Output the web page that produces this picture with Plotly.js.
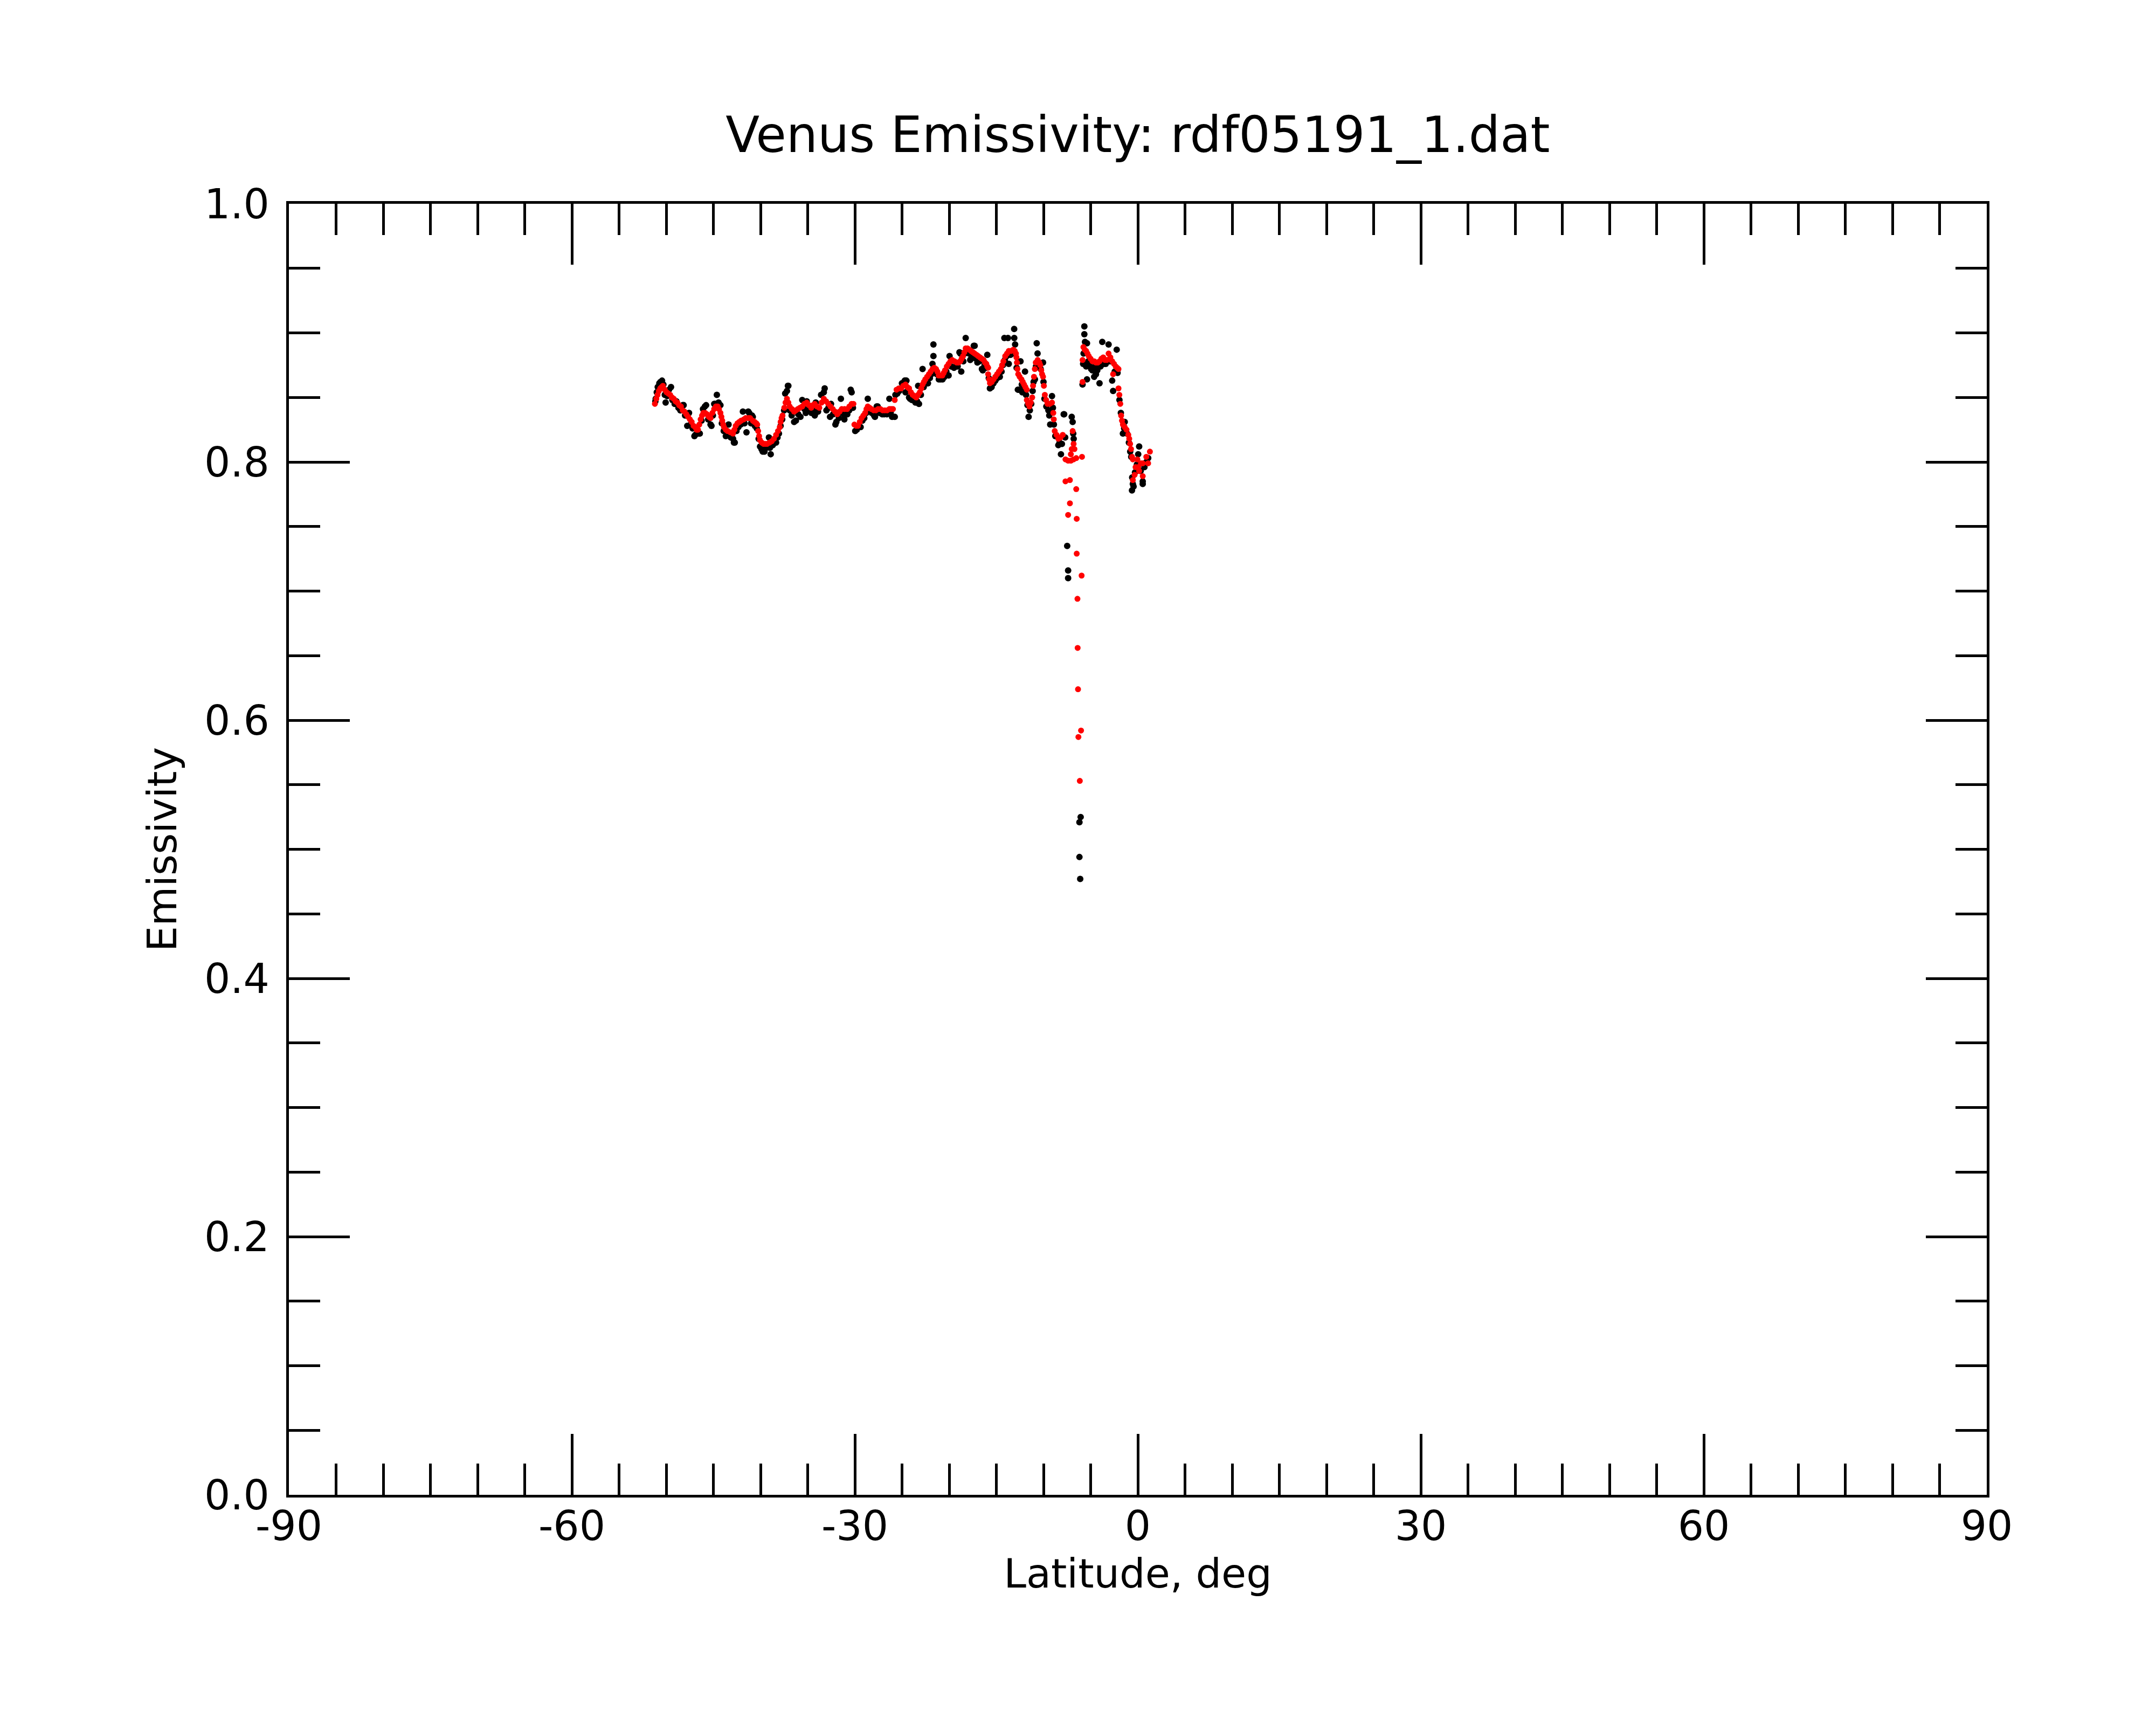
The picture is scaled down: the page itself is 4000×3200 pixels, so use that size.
<!DOCTYPE html>
<html>
<head>
<meta charset="utf-8">
<script src="https://cdn.plot.ly/plotly-3.0.1.min.js"></script>
<style>
  html, body {margin: 0; padding: 0; background: #fff;}
  #plot {width: 4000px; height: 3200px;}
</style>
</head>
<body>
<div id="plot"></div>
<script>
// smoothed emissivity (red)
var redLat = [
  -51.20, -51.05, -50.92, -50.78, -50.63, -50.49, -50.35, -50.15, -49.96, -49.77,
  -49.58, -49.39, -49.20, -49.01, -48.82, -48.63, -48.44, -48.25, -48.06, -47.87,
  -47.68, -47.49, -47.30, -47.10, -46.92, -46.78, -46.63, -46.49, -46.35, -46.20,
  -46.06, -45.87, -45.68, -45.49, -45.30, -45.10, -44.92, -44.73, -44.54, -44.40,
  -44.25, -44.15, -44.06, -43.96, -43.87, -43.68, -43.49, -43.20, -42.92, -42.77,
  -42.63, -42.44, -42.25, -42.06, -41.77, -41.58, -41.30, -41.10, -40.82, -40.63,
  -40.45, -40.35, -40.25, -40.15, -40.06, -39.87, -39.68, -39.49, -39.30, -39.05,
  -38.82, -38.58, -38.35, -38.15, -37.96, -37.87, -37.77, -37.67, -37.48, -37.35,
  -37.20, -37.05, -36.91, -36.67, -36.44, -36.25, -36.05, -35.82, -35.58, -35.35,
  -35.10, -34.87, -34.63, -34.44, -34.25, -34.01, -33.77, -33.53, -33.29, -33.05,
  -32.82, -32.58, -32.34, -32.10, -31.86, -31.62, -31.39, -31.10, -30.82, -30.58,
  -30.34, -30.15, -30.05, -29.86, -29.67, -29.48, -29.29, -29.10, -28.91, -28.77,
  -28.63, -28.44, -28.25, -28.01, -27.77, -27.53, -27.29, -27.05, -26.82, -26.58,
  -26.34, -26.15, -25.96, -25.77, -25.58, -25.34, -25.10, -24.87, -24.63, -24.44,
  -24.25, -24.06, -23.87, -23.68, -23.49, -23.30, -23.11, -22.96, -22.82, -22.68,
  -22.53, -22.34, -22.15, -21.96, -21.77, -21.58, -21.39, -21.25, -21.11, -20.92,
  -20.73, -20.58, -20.44, -20.25, -20.06, -19.87, -19.68, -19.44, -19.20, -19.01,
  -18.82, -18.68, -18.53, -18.39, -18.25, -18.06, -17.87, -17.68, -17.49, -17.30,
  -17.11, -16.92, -16.73, -16.54, -16.35, -16.20, -16.06, -15.96, -15.87, -15.87,
  -15.77, -15.68, -15.49, -15.30, -15.11, -14.92, -14.73, -14.53, -14.39, -14.25,
  -14.06, -13.87, -13.68, -13.44, -13.20, -13.05, -12.92, -12.87, -12.82, -12.77,
  -12.68, -12.53, -12.34, -12.20, -12.06, -11.92, -11.77, -11.77, -11.63, -11.49,
  -11.35, -11.20, -11.11, -11.01, -10.92, -10.82, -10.62, -10.44, -10.34, -10.24,
  -10.15, -10.05, -9.96, -9.86, -9.72, -9.58, -9.34, -9.10, -8.96, -8.91,
  -8.81, -8.62, -8.43, -8.20, -7.96, -7.67, -7.39, -7.10, -6.81, -6.53,
  -5.92, -6.91, -6.81, -7.01, -6.72, -7.10, -7.67, -7.20, -6.53, -7.20,
  -7.39, -6.48, -6.48, -5.96, -6.40, -6.38, -6.34, -6.02, -6.30, -6.15,
  -5.86, -5.86, -5.77, -5.63, -5.48, -5.34, -5.20, -5.01, -4.82, -4.63,
  -4.44, -4.25, -4.06, -3.86, -3.67, -3.48, -3.29, -3.10, -2.91, -2.72,
  -2.62, -2.53, -2.34, -2.20, -2.05, -2.05, -1.96, -1.86, -1.77, -1.68,
  -1.58, -1.39, -1.20, -1.01, -0.91, -0.82, -0.72, -0.62, -0.53, -0.34,
  -0.53, -0.24, -0.05, 0.04, 0.14, 0.33, 0.52, 0.52, 0.90, 1.09, 1.28
];
var redEmis = [
  0.845, 0.849, 0.852, 0.855, 0.857, 0.858, 0.859, 0.856, 0.854, 0.853,
  0.852, 0.850, 0.849, 0.847, 0.846, 0.844, 0.843, 0.840, 0.839, 0.837,
  0.835, 0.833, 0.831, 0.828, 0.827, 0.825, 0.825, 0.829, 0.833, 0.836,
  0.838, 0.838, 0.837, 0.835, 0.834, 0.838, 0.841, 0.843, 0.843, 0.841,
  0.838, 0.835, 0.832, 0.829, 0.827, 0.825, 0.824, 0.823, 0.822, 0.825,
  0.828, 0.830, 0.831, 0.832, 0.833, 0.834, 0.834, 0.834, 0.832, 0.831,
  0.830, 0.829, 0.824, 0.820, 0.817, 0.815, 0.814, 0.814, 0.814, 0.815,
  0.816, 0.818, 0.821, 0.824, 0.827, 0.831, 0.834, 0.836, 0.842, 0.846,
  0.849, 0.846, 0.843, 0.841, 0.839, 0.840, 0.841, 0.842, 0.843, 0.845,
  0.846, 0.844, 0.842, 0.844, 0.845, 0.843, 0.842, 0.846, 0.849, 0.847,
  0.845, 0.843, 0.841, 0.839, 0.837, 0.839, 0.841, 0.841, 0.841, 0.843,
  0.845, 0.845, 0.829, 0.828, 0.828, 0.831, 0.834, 0.836, 0.838, 0.841,
  0.843, 0.842, 0.841, 0.840, 0.840, 0.841, 0.841, 0.840, 0.840, 0.840,
  0.841, 0.841, 0.841, 0.848, 0.856, 0.857, 0.857, 0.859, 0.860, 0.858,
  0.857, 0.854, 0.852, 0.851, 0.850, 0.852, 0.854, 0.857, 0.860, 0.862,
  0.864, 0.866, 0.868, 0.870, 0.872, 0.873, 0.872, 0.870, 0.867, 0.867,
  0.867, 0.869, 0.871, 0.874, 0.876, 0.878, 0.879, 0.878, 0.877, 0.877,
  0.878, 0.880, 0.882, 0.885, 0.888, 0.888, 0.887, 0.886, 0.885, 0.884,
  0.883, 0.882, 0.881, 0.880, 0.879, 0.877, 0.876, 0.874, 0.873, 0.868,
  0.864, 0.861, 0.862, 0.864, 0.866, 0.868, 0.870, 0.872, 0.875, 0.878,
  0.882, 0.884, 0.886, 0.886, 0.887, 0.886, 0.884, 0.881, 0.877, 0.872,
  0.868, 0.866, 0.864, 0.862, 0.860, 0.858, 0.856, 0.848, 0.845, 0.843,
  0.846, 0.850, 0.859, 0.866, 0.872, 0.877, 0.879, 0.877, 0.875, 0.871,
  0.868, 0.866, 0.859, 0.852, 0.848, 0.845, 0.845, 0.846, 0.838, 0.833,
  0.824, 0.821, 0.818, 0.819, 0.821, 0.802, 0.801, 0.801, 0.802, 0.803,
  0.804, 0.824, 0.814, 0.810, 0.810, 0.806, 0.785, 0.786, 0.779, 0.768,
  0.759, 0.756, 0.729, 0.712, 0.694, 0.656, 0.624, 0.592, 0.587, 0.553,
  0.862, 0.879, 0.889, 0.887, 0.886, 0.884, 0.882, 0.880, 0.878, 0.878,
  0.877, 0.877, 0.878, 0.880, 0.881, 0.879, 0.879, 0.884, 0.881, 0.878,
  0.868, 0.876, 0.874, 0.873, 0.872, 0.857, 0.852, 0.845, 0.836, 0.832,
  0.829, 0.827, 0.825, 0.821, 0.818, 0.814, 0.810, 0.804, 0.802, 0.790,
  0.786, 0.796, 0.802, 0.796, 0.793, 0.799, 0.789, 0.799, 0.804, 0.799, 0.808
];

// raw emissivity (black)
var blackLat = [
  -51.15, -51.11, -51.00, -50.90, -50.73, -50.60, -50.44, -50.30, -50.15, -50.06,
  -49.90, -49.70, -49.49, -49.35, -49.10, -48.92, -48.70, -48.50, -48.25, -48.15,
  -48.00, -47.77, -47.58, -47.40, -47.20, -47.01, -46.91, -46.70, -46.53, -46.44,
  -46.25, -46.10, -45.90, -45.77, -45.55, -45.30, -45.20, -45.05, -44.91, -44.82,
  -44.63, -44.45, -44.25, -44.10, -43.90, -43.68, -43.50, -43.39, -43.15, -42.91,
  -42.82, -42.73, -42.55, -42.35, -42.10, -41.87, -41.70, -41.49, -41.30, -41.20,
  -41.00, -40.91, -40.82, -40.60, -40.40, -40.20, -40.05, -39.90, -39.77, -39.58,
  -39.40, -39.11, -39.00, -38.92, -38.70, -38.50, -38.35, -38.20, -38.05, -37.87,
  -37.70, -37.50, -37.39, -37.20, -37.10, -37.05, -36.90, -36.70, -36.44, -36.25,
  -36.00, -35.77, -35.58, -35.35, -35.20, -35.10, -34.90, -34.60, -34.40, -34.25,
  -34.15, -34.15, -33.90, -33.58, -33.29, -33.20, -33.01, -32.80, -32.63, -32.53,
  -32.30, -32.06, -31.96, -31.70, -31.48, -31.30, -31.11, -31.10, -30.80, -30.60,
  -30.44, -30.34, -30.20, -29.96, -29.80, -29.58, -29.39, -29.20, -29.00, -28.80,
  -28.63, -28.45, -28.20, -27.96, -27.87, -27.68, -27.58, -27.40, -27.10, -26.90,
  -26.60, -26.34, -26.20, -26.05, -25.77, -25.70, -25.50, -25.30, -25.01, -24.72,
  -24.63, -24.63, -24.53, -24.40, -24.25, -24.15, -23.95, -23.80, -23.58, -23.40,
  -23.29, -23.20, -23.00, -22.82, -22.70, -22.50, -22.34, -22.25, -22.05, -21.90,
  -21.77, -21.67, -21.67, -21.50, -21.30, -21.10, -20.91, -20.70, -20.50, -20.30,
  -20.06, -19.96, -19.80, -19.49, -19.30, -19.10, -18.91, -18.82, -18.72, -18.50,
  -18.35, -18.25, -18.10, -17.90, -17.77, -17.68, -17.50, -17.39, -17.30, -17.15,
  -17.01, -16.80, -16.53, -16.44, -16.25, -16.10, -15.96, -15.80, -15.68, -15.50,
  -15.30, -15.10, -14.90, -14.72, -14.63, -14.45, -14.30, -14.15, -14.10, -13.90,
  -13.77, -13.68, -13.50, -13.30, -13.11, -13.10, -13.01, -12.85, -12.72, -12.63,
  -12.44, -12.30, -12.25, -12.10, -11.96, -11.85, -11.70, -11.58, -11.45, -11.30,
  -11.15, -11.05, -10.91, -10.80, -10.72, -10.63, -10.50, -10.30, -10.05, -10.00,
  -9.90, -9.70, -9.48, -9.39, -9.29, -9.10, -9.00, -8.90, -8.75, -8.43,
  -8.30, -8.15, -8.05, -7.86, -7.81, -7.70, -7.49, -7.39, -7.39, -7.01,
  -6.91, -6.85, -6.80, -6.19, -6.06, -6.19, -6.11, -5.86, -5.80, -5.75,
  -5.67, -5.67, -5.60, -5.48, -5.39, -5.39, -5.25, -5.10, -4.95, -4.82,
  -4.63, -4.50, -4.44, -4.30, -4.06, -3.95, -3.77, -3.60, -3.40, -3.10,
  -2.95, -2.72, -2.62, -2.45, -2.24, -2.15, -1.95, -1.80, -1.58, -1.45,
  -1.39, -1.15, -0.95, -0.81, -0.70, -0.62, -0.60, -0.53, -0.45, -0.30,
  -0.10, 0.04, 0.14, 0.30, 0.52, 0.52, 0.70, 0.90, 1.10
];
var blackEmis = [
  0.847, 0.849, 0.854, 0.858, 0.861, 0.862, 0.863, 0.860, 0.852, 0.846,
  0.851, 0.856, 0.858, 0.848, 0.845, 0.847, 0.842, 0.840, 0.844, 0.844,
  0.836, 0.828, 0.838, 0.829, 0.826, 0.820, 0.821, 0.823, 0.822, 0.822,
  0.832, 0.841, 0.843, 0.844, 0.833, 0.829, 0.828, 0.836, 0.845, 0.845,
  0.852, 0.846, 0.844, 0.830, 0.824, 0.820, 0.821, 0.829, 0.819, 0.818,
  0.815, 0.815, 0.824, 0.827, 0.829, 0.839, 0.830, 0.823, 0.839, 0.838,
  0.830, 0.836, 0.835, 0.828, 0.826, 0.818, 0.812, 0.810, 0.808, 0.808,
  0.811, 0.819, 0.811, 0.806, 0.813, 0.816, 0.815, 0.819, 0.822, 0.828,
  0.833, 0.840, 0.853, 0.855, 0.859, 0.859, 0.840, 0.836, 0.831, 0.832,
  0.837, 0.835, 0.848, 0.841, 0.838, 0.847, 0.840, 0.838, 0.840, 0.836,
  0.846, 0.838, 0.839, 0.852, 0.854, 0.857, 0.840, 0.842, 0.835, 0.845,
  0.837, 0.829, 0.831, 0.834, 0.849, 0.838, 0.833, 0.836, 0.837, 0.840,
  0.856, 0.854, 0.842, 0.824, 0.825, 0.828, 0.827, 0.832, 0.834, 0.838,
  0.849, 0.839, 0.838, 0.836, 0.835, 0.843, 0.843, 0.838, 0.837, 0.837,
  0.837, 0.849, 0.838, 0.835, 0.835, 0.852, 0.853, 0.855, 0.861, 0.863,
  0.863, 0.854, 0.863, 0.855, 0.850, 0.849, 0.848, 0.849, 0.846, 0.847,
  0.859, 0.845, 0.852, 0.872, 0.858, 0.861, 0.861, 0.861, 0.865, 0.868,
  0.876, 0.891, 0.882, 0.869, 0.868, 0.864, 0.864, 0.864, 0.866, 0.870,
  0.867, 0.882, 0.874, 0.873, 0.874, 0.874, 0.885, 0.884, 0.870, 0.878,
  0.884, 0.896, 0.885, 0.884, 0.879, 0.880, 0.882, 0.890, 0.890, 0.880,
  0.877, 0.878, 0.872, 0.871, 0.875, 0.873, 0.883, 0.865, 0.857, 0.858,
  0.861, 0.863, 0.865, 0.866, 0.866, 0.870, 0.875, 0.896, 0.879, 0.882,
  0.896, 0.876, 0.883, 0.884, 0.903, 0.896, 0.891, 0.873, 0.856, 0.856,
  0.878, 0.860, 0.854, 0.857, 0.870, 0.852, 0.844, 0.835, 0.840, 0.845,
  0.855, 0.862, 0.864, 0.874, 0.892, 0.884, 0.876, 0.872, 0.877, 0.862,
  0.849, 0.843, 0.840, 0.836, 0.829, 0.851, 0.842, 0.829, 0.820, 0.813,
  0.815, 0.806, 0.814, 0.837, 0.837, 0.819, 0.735, 0.716, 0.710, 0.835,
  0.831, 0.822, 0.818, 0.521, 0.525, 0.494, 0.477, 0.860, 0.876, 0.884,
  0.905, 0.899, 0.893, 0.874, 0.892, 0.864, 0.878, 0.875, 0.872, 0.871,
  0.866, 0.874, 0.868, 0.871, 0.861, 0.874, 0.893, 0.876, 0.876, 0.891,
  0.878, 0.863, 0.855, 0.870, 0.887, 0.869, 0.848, 0.838, 0.822, 0.826,
  0.831, 0.822, 0.815, 0.808, 0.804, 0.778, 0.788, 0.783, 0.781, 0.792,
  0.798, 0.806, 0.812, 0.793, 0.785, 0.783, 0.796, 0.800, 0.803
];

var xTickVals = [-90, -60, -30, 0, 30, 60, 90];
var xTickText = ["-90", "-60", "-30", "0", "30", "60", "90"];
var yTickVals = [0.0, 0.2, 0.4, 0.6, 0.8, 1.0];
var yTickText = ["0.0", "0.2", "0.4", "0.6", "0.8", "1.0"];

function makeAxis(range, tickVals, tickText, minorStart, minorStep, titleText, standoff, labelOffset) {
    return {
        range: range,
        tickmode: "array",
        tickvals: tickVals,
        ticktext: tickText,
        ticks: "inside",
        ticklen: 113,
        tickwidth: 5,
        tickcolor: "black",
        ticklabelstandoff: labelOffset,
        showline: true,
        linewidth: 5,
        linecolor: "black",
        mirror: "ticks",
        showgrid: false,
        zeroline: false,
        automargin: false,
        tickfont: {family: "DejaVu Sans", size: 76, color: "black"},
        minor: {tickmode: "linear", tick0: minorStart, dtick: minorStep,
                ticks: "inside", ticklen: 58, tickwidth: 5,
                tickcolor: "black", showgrid: false},
        title: {text: titleText, standoff: standoff,
                font: {family: "DejaVu Sans", size: 75, color: "black"}}
    };
}

function createPlot() {

    var rawTrace = {x: blackLat,
                    y: blackEmis,
                    type: "scatter",
                    mode: "markers",
                    marker: {color: "black", size: 12, line: {width: 0}},
                    name: "raw"};

    var smoothTrace = {x: redLat,
                       y: redEmis,
                       type: "scatter",
                       mode: "markers",
                       marker: {color: "#ff0000", size: 11, line: {width: 0}},
                       name: "smoothed"};

    var layout = {
        width: 4000,
        height: 3200,
        margin: {l: 536, r: 314, t: 378, b: 427},
        paper_bgcolor: "white",
        plot_bgcolor: "white",
        showlegend: false,
        font: {family: "DejaVu Sans", color: "black"},
        title: {text: "Venus Emissivity: rdf05191_1.dat",
                font: {family: "DejaVu Sans", size: 92, color: "black"},
                x: 0.5, xref: "paper",
                y: 0.922, yref: "container", yanchor: "middle"},
        xaxis: makeAxis([-90, 90], xTickVals, xTickText, -90, 5, "Latitude, deg", 0, -12),
        yaxis: makeAxis([0, 1], yTickVals, yTickText, 0, 0.05, "Emissivity", 28, 16)
    };

    Plotly.newPlot("plot", [rawTrace, smoothTrace], layout, {staticPlot: true});
}

createPlot();
</script>
</body>
</html>
